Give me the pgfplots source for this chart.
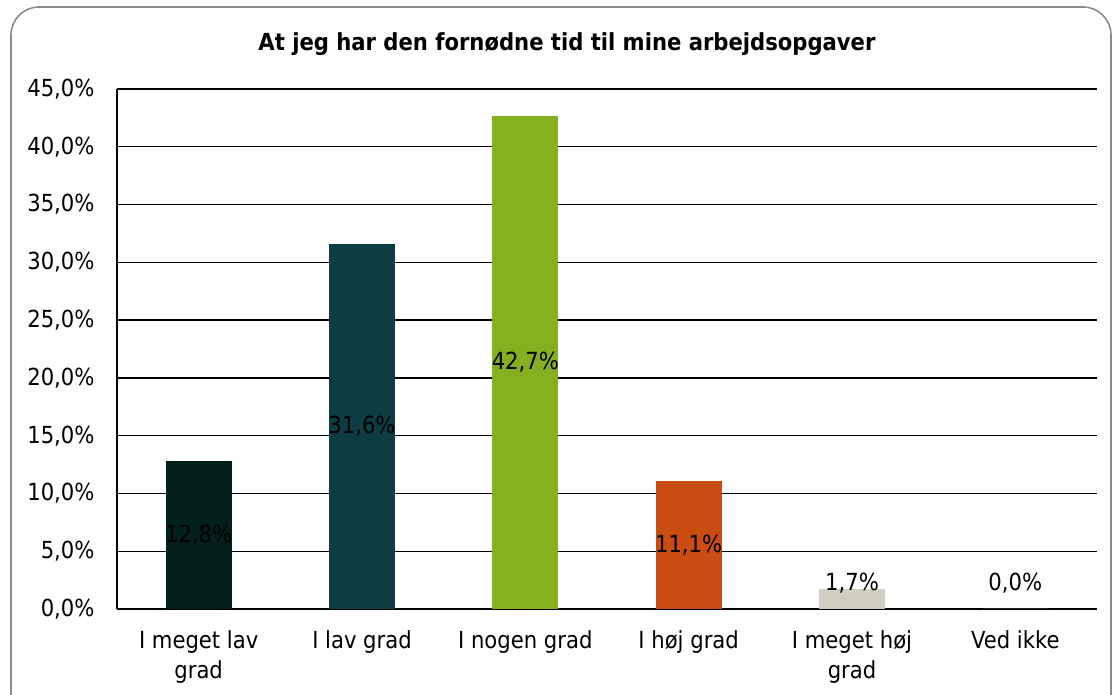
\documentclass[border=0pt]{standalone}
\usepackage{pgfplots}
\pgfplotsset{compat=1.18}
\usepackage{pgfplotstable}
\usepackage{fontspec}
\setmainfont{DejaVu Sans Condensed}
\definecolor{c1}{HTML}{031F1C}
\definecolor{c2}{HTML}{0D3D42}
\definecolor{c3}{HTML}{84B020}
\definecolor{c4}{HTML}{C94C10}
\definecolor{c5}{HTML}{D3CEC2}
\definecolor{frame}{HTML}{8C8C8C}
\pgfplotstableread{
x lab y
0 {12,8\%} 6.4
1 {31,6\%} 15.8
2 {42,7\%} 21.35
3 {11,1\%} 5.55
4 {1,7\%} 2.25
5 {0,0\%} 2.25
}\labels
\begin{document}
\begin{tikzpicture}[x=1pt,y=1pt]
\useasboundingbox (0,0) rectangle (1115,695);
\clip (0,0) rectangle (1115,695);
\fill[white] (0,0) rectangle (1115,695);
\draw[frame, line width=1.6pt, rounded corners=28pt] (11,-30) rectangle (1111,688);
\node[font=\bfseries\fontsize{23.5}{28}\selectfont] at (567,651) {At jeg har den fornødne tid til mine arbejdsopgaver};
\begin{axis}[
  at={(117pt,86pt)}, anchor=south west,
  scale only axis, width=980pt, height=520pt,
  xmin=-0.5, xmax=5.5, ymin=0, ymax=45,
  ytick={0,5,...,45},
  xtick={0,...,5},
  xticklabels={{I meget lav\\grad},{I lav grad},{I nogen grad},{I høj grad},{I meget høj\\grad},{Ved ikke}},
  /pgf/number format/assume math mode=true,
  yticklabel={\pgfmathprintnumber[fixed,fixed zerofill,precision=1,use comma]{\tick}\%},
  ticklabel style={font=\fontsize{23.5}{30}\selectfont},
  xticklabel style={align=center, yshift=-18pt},
  yticklabel style={xshift=-19pt},
  major tick length=0pt,
  ymajorgrids, grid style={black, line width=1.4pt},
  axis x line*=bottom, axis y line*=left,
  axis line style={black, line width=1.4pt, -},
  clip=false,
]
\addplot[ybar, bar width=66pt, fill=c1, draw=none] coordinates {(0,12.8)};
\addplot[ybar, bar width=66pt, fill=c2, draw=none] coordinates {(1,31.6)};
\addplot[ybar, bar width=66pt, fill=c3, draw=none] coordinates {(2,42.7)};
\addplot[ybar, bar width=66pt, fill=c4, draw=none] coordinates {(3,11.1)};
\addplot[ybar, bar width=66pt, fill=c5, draw=none] coordinates {(4,1.7)};
\addplot[ybar, bar width=66pt, fill=white, draw=none] coordinates {(5,0)};
\addplot[only marks, mark=none, nodes near coords, point meta=explicit symbolic,
  nodes near coords style={anchor=center, font=\fontsize{23.5}{28}\selectfont, text=black}]
  table[x=x, y=y, meta=lab] {\labels};
\end{axis}
\end{tikzpicture}
\end{document}
